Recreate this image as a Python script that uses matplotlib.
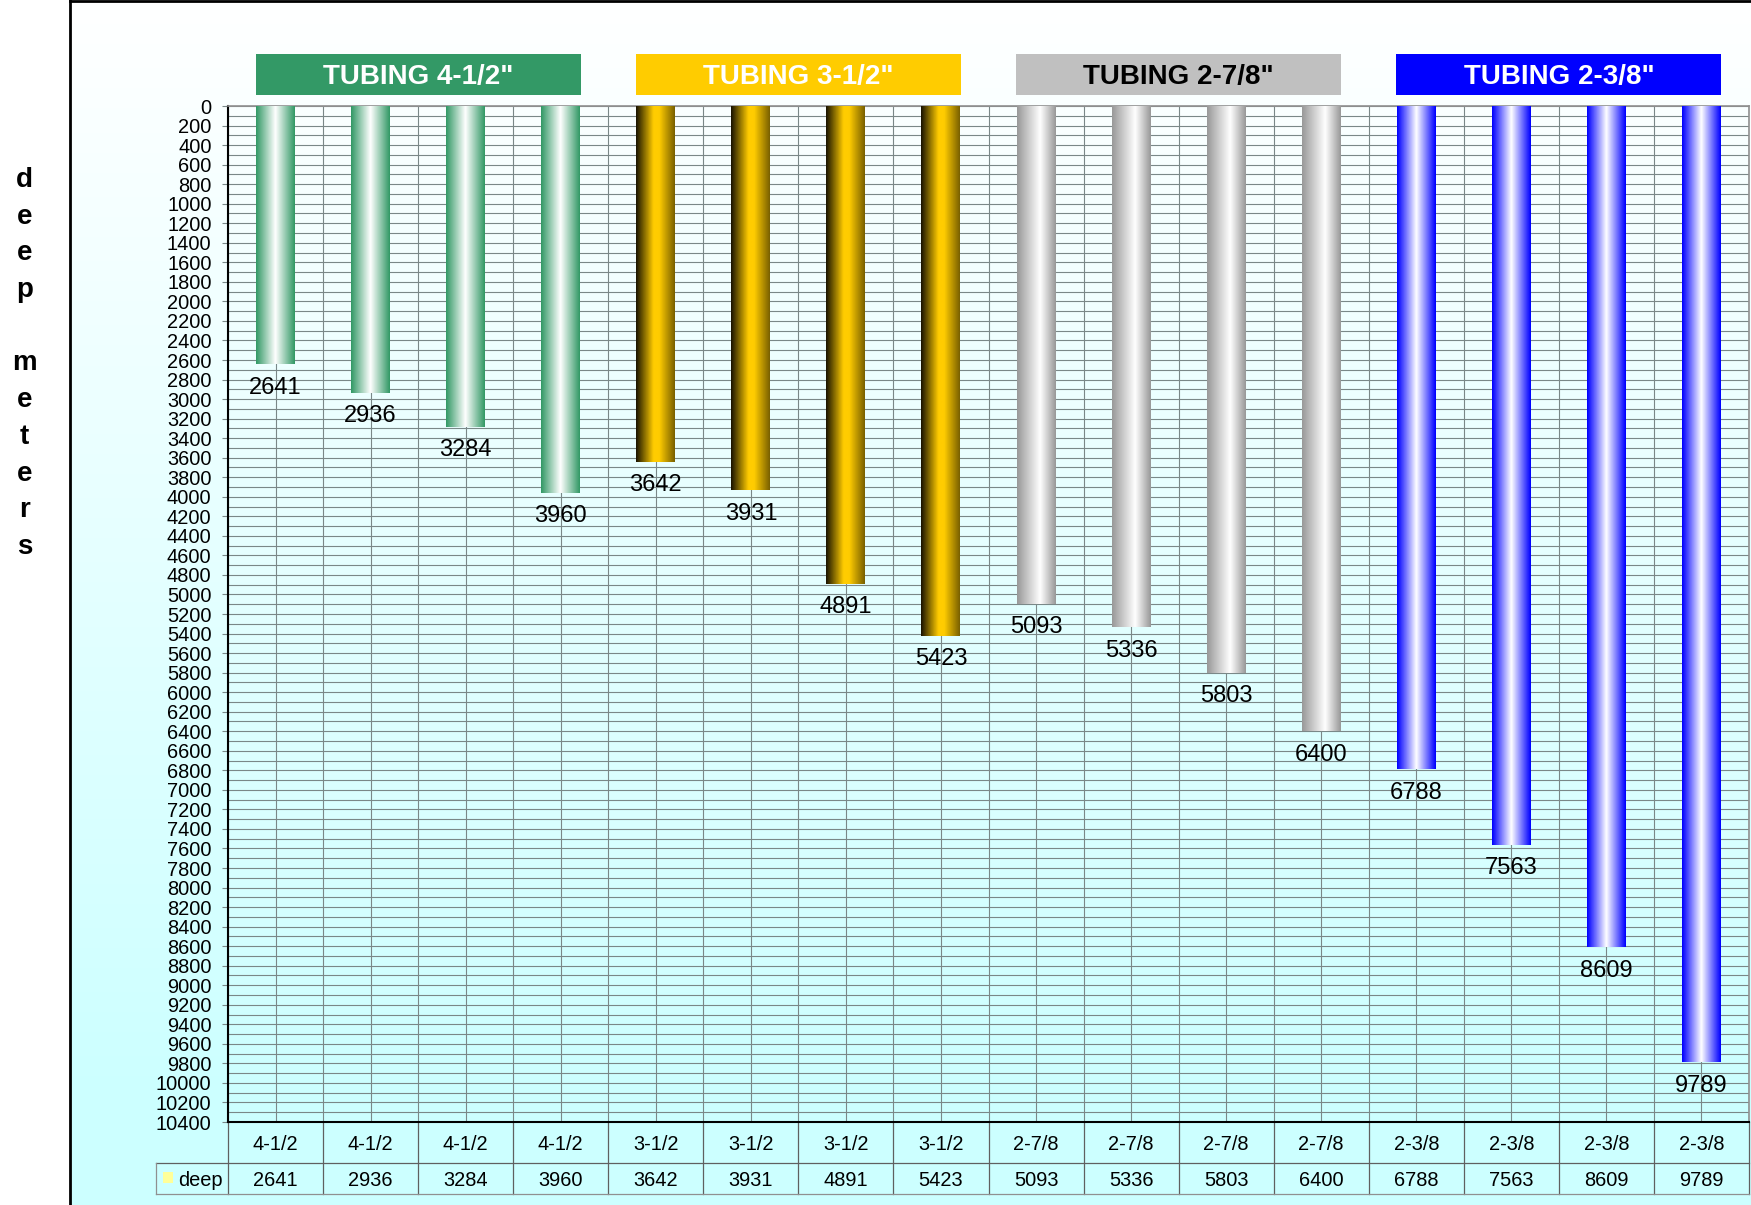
"""Tubing depth chart: max setting depth per tubing size, drawn as hanging gradient bars."""
import numpy as np
import matplotlib
matplotlib.use("Agg")
import matplotlib.pyplot as plt
import matplotlib.transforms as mtransforms
from matplotlib.colors import to_rgb
from matplotlib.lines import Line2D
from matplotlib.patches import Rectangle

plt.rcParams["font.family"] = ["Liberation Sans", "DejaVu Sans"]

SIZES = ["4-1/2"] * 4 + ["3-1/2"] * 4 + ["2-7/8"] * 4 + ["2-3/8"] * 4
DEPTHS = [2641, 2936, 3284, 3960, 3642, 3931, 4891, 5423,
          5093, 5336, 5803, 6400, 6788, 7563, 8609, 9789]
GROUPS = ['TUBING 4-1/2"', 'TUBING 3-1/2"', 'TUBING 2-7/8"', 'TUBING 2-3/8"']
GROUP_FACE = ["#339966", "#ffcc00", "#c0c0c0", "#0000ff"]
GROUP_TEXT = ["white", "white", "black", "white"]
SERIES = "deep"
YLABEL = "deep meters"
YMAX = 10400

# left -> right colour stops across each bar (cylinder look)
BAR_STOPS = [
    [(0.0, "#339966"), (0.5, "#ffffff"), (1.0, "#339966")],
    [(0.0, "#1a1400"), (0.45, "#ffcc00"), (0.6, "#ffcc00"), (1.0, "#7a6100")],
    [(0.0, "#999999"), (0.6, "#ffffff"), (1.0, "#999999")],
    [(0.0, "#0000ff"), (0.5, "#ffffff"), (1.0, "#0000ff")],
]

W, H = 1751, 1205
GRID = "#7a8888"


def gradient_row(stops, n=64):
    t = np.linspace(0, 1, n)
    pos = [p for p, _ in stops]
    rgb = np.array([to_rgb(c) for _, c in stops])
    return np.stack([np.interp(t, pos, rgb[:, k]) for k in range(3)], axis=1)


fig = plt.figure(figsize=(W / 100, H / 100), dpi=100)
fig.patch.set_facecolor("white")

# chart-area background: white at top fading to pale cyan
bg = fig.add_axes([70 / W, 0, 1 - 70 / W, 1], zorder=-1)
ys = np.clip(np.linspace(0, H, 300) / 1100, 0, 1)
top, bot = np.array(to_rgb("#ffffff")), np.array(to_rgb("#ccffff"))
col = top[None, :] * (1 - ys[:, None]) + bot[None, :] * ys[:, None]
bg.imshow(col[:, None, :], extent=(0, 1, 0, 1), aspect="auto", origin="upper")
bg.axis("off")
fig.add_artist(Line2D([70 / W, 70 / W], [0, 1], transform=fig.transFigure, color="black", lw=2))
fig.add_artist(Line2D([70 / W, 1], [1 - 1 / H, 1 - 1 / H], transform=fig.transFigure, color="black", lw=2))

ax = fig.add_axes([228 / W, 83 / H, 1521 / W, 1016 / H])
ax.patch.set_alpha(0)

n = len(DEPTHS)
x = np.arange(n)
bw = 0.41
for i, d in enumerate(DEPTHS):
    g = i // 4
    row = gradient_row(BAR_STOPS[g])
    ax.imshow(row[None, :, :], extent=(i - bw / 2, i + bw / 2, d, 0), aspect="auto",
              interpolation="bilinear", zorder=3)
    ax.annotate(f"{d}", (i, d), xytext=(0, -9), textcoords="offset points",
                ha="center", va="top", fontsize=17, zorder=4)

ax.set_xlim(-0.5, n - 0.5)
ax.set_ylim(YMAX, 0)
ax.set_yticks(np.arange(0, YMAX + 1, 200))
ax.set_yticks(np.arange(100, YMAX, 200), minor=True)
ax.set_yticklabels([str(v) for v in range(0, YMAX + 1, 200)])
ax.set_xticks(x)
ax.set_xticks(np.arange(-0.5, n), minor=True)
ax.tick_params(axis="x", which="both", length=0, labelbottom=False)
ax.tick_params(axis="y", which="major", length=4.3, color=GRID, pad=7.5, labelsize=14.4)
ax.tick_params(axis="y", which="minor", length=0)
ax.grid(True, which="both", color=GRID, lw=0.8, zorder=1)
ax.set_axisbelow(True)
for s in ("left", "bottom"):
    ax.spines[s].set_color("black")
    ax.spines[s].set_linewidth(1.5)
for s in ("top", "right"):
    ax.spines[s].set_color("#909090")
    ax.spines[s].set_linewidth(1.2)

# group header boxes above the plot
bt = mtransforms.blended_transform_factory(ax.transData, ax.transAxes)
for g, label in enumerate(GROUPS):
    cx = g * 4 + 1.5
    ax.add_patch(Rectangle((cx - 1.71, 1.0108), 3.42, 0.0404, transform=bt,
                           facecolor=GROUP_FACE[g], edgecolor="none", clip_on=False))
    ax.text(cx, 1.0217, label, transform=bt, ha="center", va="baseline",
            fontsize=20, fontweight="bold", color=GROUP_TEXT[g])

# data table under the axis
r1, r2, leg_x = -0.0404, -0.0709, -1.257
tcol = "#606060"
for b in np.arange(-0.5, n + 0.5):
    ax.add_line(Line2D([b, b], [0, r2], transform=bt, color=tcol, lw=0.9, clip_on=False))
ax.add_line(Line2D([leg_x, n - 0.5], [r1, r1], transform=bt, color=tcol, lw=0.9, clip_on=False))
ax.add_line(Line2D([leg_x, n - 0.5], [r2, r2], transform=bt, color="#909090", lw=0.9, clip_on=False))
ax.add_line(Line2D([leg_x, leg_x], [r1, r2], transform=bt, color="#909090", lw=0.9, clip_on=False))
for i in range(n):
    ax.text(i, -0.0276, SIZES[i], transform=bt, ha="center", va="baseline", fontsize=14.4)
    ax.text(i, -0.0630, f"{DEPTHS[i]}", transform=bt, ha="center", va="baseline", fontsize=14.4)
ax.add_patch(Rectangle((-1.184, -0.060), 0.105, 0.0108, transform=bt,
                       facecolor="#ffff99", edgecolor="none", clip_on=False))
ax.text(-1.026, -0.0630, SERIES, transform=bt, ha="left", va="baseline", fontsize=14.4)

# stacked vertical axis title
for k, ch in enumerate(YLABEL):
    if ch == " ":
        continue
    fig.text(24.5 / W, 1 - (187 + 36.7 * k) / H, ch, ha="center", va="baseline",
             fontsize=20, fontweight="bold")

fig.savefig("out.png", dpi=100)
